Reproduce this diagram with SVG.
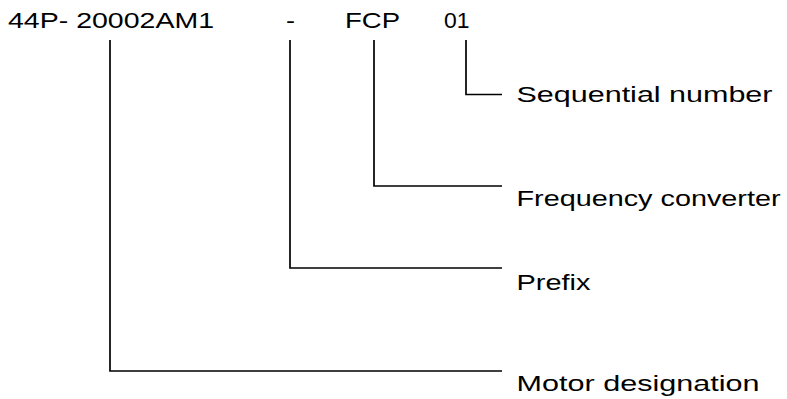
<svg xmlns="http://www.w3.org/2000/svg" width="787" height="399" viewBox="0 0 787 399">
<style>
  text { font-family: "Liberation Sans", Arial, sans-serif; font-size: 22.5px; fill: #000; }
  .conn { fill: none; stroke: #000; stroke-width: 1.7; stroke-linejoin: miter; stroke-linecap: butt; }
</style>
<rect width="787" height="399" fill="#fff"/>
<g id="code">
  <text x="8" y="27.6" textLength="206" lengthAdjust="spacingAndGlyphs">44P- 20002AM1</text>
  <text x="286" y="27.6" textLength="9" lengthAdjust="spacingAndGlyphs">-</text>
  <text x="345" y="27.6" textLength="55" lengthAdjust="spacingAndGlyphs">FCP</text>
  <text x="444" y="27.6" textLength="25.5" lengthAdjust="spacingAndGlyphs">01</text>
</g>
<g id="connectors">
  <path class="conn" d="M466,40 V94.5 H502"/>
  <path class="conn" d="M374,40 V186 H502"/>
  <path class="conn" d="M290,40 V268 H502"/>
  <path class="conn" d="M110,40 V371 H502"/>
</g>
<g id="sequential-number">
  <text x="516.5" y="101.5" textLength="256" lengthAdjust="spacingAndGlyphs">Sequential number</text>
</g>
<g id="frequency-converter">
  <text x="516.5" y="206" textLength="264" lengthAdjust="spacingAndGlyphs">Frequency converter</text>
</g>
<g id="prefix">
  <text x="516.5" y="290" textLength="74" lengthAdjust="spacingAndGlyphs">Prefix</text>
</g>
<g id="motor-designation">
  <text x="516.5" y="391" textLength="243" lengthAdjust="spacingAndGlyphs">Motor designation</text>
</g>
</svg>
